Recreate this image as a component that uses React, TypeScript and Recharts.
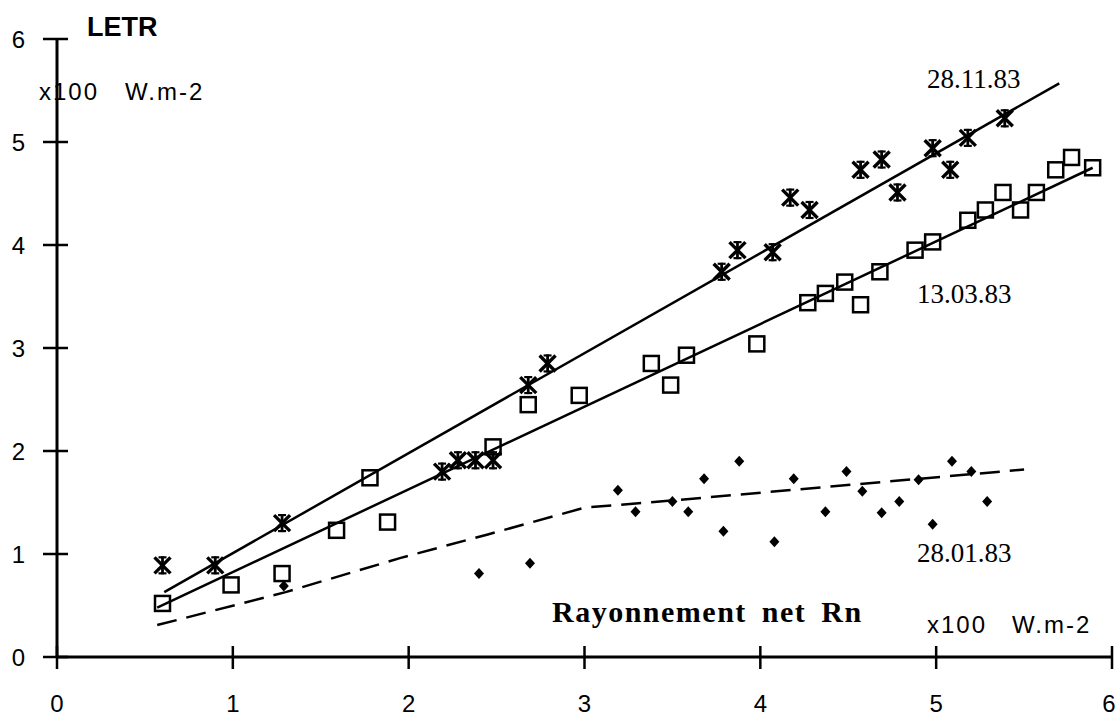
import React from "react";
import { Scatter, ScatterChart, XAxis, YAxis } from "recharts";

// Rayonnement net Rn (x100 W.m-2) vs LETR (x100 W.m-2)
const axisTicks = [0, 1, 2, 3, 4, 5, 6];

const nov83: [number, number][] = [
  [0.6, 0.89], [0.9, 0.89], [1.28, 1.3], [2.19, 1.8], [2.28, 1.91], [2.38, 1.91],
  [2.48, 1.91], [2.68, 2.64], [2.79, 2.85], [3.78, 3.74], [3.87, 3.95], [4.07, 3.93],
  [4.17, 4.46], [4.28, 4.34], [4.57, 4.73], [4.69, 4.83], [4.78, 4.51], [4.98, 4.94],
  [5.08, 4.73], [5.18, 5.04], [5.39, 5.23]
];

const mar83: [number, number][] = [
  [0.6, 0.52], [0.99, 0.7], [1.28, 0.81], [1.59, 1.23], [1.78, 1.74], [1.88, 1.31],
  [2.48, 2.04], [2.68, 2.45], [2.97, 2.54], [3.38, 2.85], [3.49, 2.64], [3.58, 2.93],
  [3.98, 3.04], [4.27, 3.44], [4.37, 3.53], [4.48, 3.64], [4.57, 3.42], [4.68, 3.74],
  [4.88, 3.95], [4.98, 4.03], [5.18, 4.24], [5.28, 4.34], [5.38, 4.51], [5.48, 4.34],
  [5.57, 4.51], [5.68, 4.73], [5.77, 4.85], [5.89, 4.75]
];

const jan83: [number, number][] = [
  [1.29, 0.69], [2.4, 0.81], [2.69, 0.91], [3.19, 1.62], [3.29, 1.41], [3.5, 1.51],
  [3.59, 1.41], [3.68, 1.73], [3.79, 1.22], [3.88, 1.9], [4.08, 1.12], [4.19, 1.73],
  [4.37, 1.41], [4.49, 1.8], [4.58, 1.61], [4.69, 1.4], [4.79, 1.51], [4.9, 1.72],
  [4.98, 1.29], [5.09, 1.9], [5.2, 1.8], [5.29, 1.51]
];

const nov83Fit: [number, number][] = [[0.61, 0.63], [5.7, 5.57]];
const mar83Fit: [number, number][] = [[0.57, 0.48], [5.89, 4.75]];
const jan83Fit: [number, number][] = [
  [0.57, 0.31], [1.3, 0.63], [1.95, 0.96], [2.45, 1.19], [3.0, 1.45],
  [3.5, 1.52], [4.9, 1.73], [5.5, 1.82]
];

const toPts = (arr: [number, number][]) => arr.map(([x, y]) => ({ x, y }));

const SANS = "'Liberation Sans', Arial, sans-serif";
const SERIF = "'Liberation Serif', 'Times New Roman', serif";

const noDot = () => <g />;

const Asterisk = (p: any) => {
  const { cx, cy } = p;
  const s = 8;
  return (
    <g stroke="#000" strokeLinecap="butt">
      <line x1={cx - s} y1={cy - s} x2={cx + s} y2={cy + s} strokeWidth={3.4} />
      <line x1={cx + s} y1={cy - s} x2={cx - s} y2={cy + s} strokeWidth={3.4} />
      <line x1={cx} y1={cy - s - 1} x2={cx} y2={cy + s + 1} strokeWidth={2.8} />
      <line x1={cx - 4} y1={cy - s} x2={cx + 4} y2={cy - s} strokeWidth={2.2} />
      <line x1={cx - 4} y1={cy + s} x2={cx + 4} y2={cy + s} strokeWidth={2.2} />
    </g>
  );
};

const Square = (p: any) => {
  const { cx, cy } = p;
  return <rect x={cx - 7.5} y={cy - 7.5} width={15} height={15} fill="none" stroke="#000" strokeWidth={2.5} />;
};

const Diamond = (p: any) => {
  const { cx, cy } = p;
  return <path d={`M${cx},${cy - 5.5} L${cx + 5},${cy} L${cx},${cy + 5.5} L${cx - 5},${cy} Z`} fill="#000" />;
};

// ticks cross the axis: drawn on both sides
const YTick = (p: any) => {
  const { x, y, payload } = p;
  return (
    <g>
      <line x1={x - 14} y1={y} x2={x + 11} y2={y} stroke="#000" strokeWidth={2.5} />
      <text x={x - 32} y={y} textAnchor="end" dominantBaseline="central" fontFamily={SANS} fontSize={24} fill="#000">
        {payload.value}
      </text>
    </g>
  );
};

const XTick = (p: any) => {
  const { x, y, payload } = p;
  const lx = payload.value === 6 ? x - 3 : x;
  return (
    <g>
      <line x1={x} y1={y - 11} x2={x} y2={y + 12} stroke="#000" strokeWidth={2.5} />
      <text x={lx} y={y + 46} textAnchor="middle" dominantBaseline="central" fontFamily={SANS} fontSize={24} fill="#000">
        {payload.value}
      </text>
    </g>
  );
};

export default function App() {
  return (
    <div style={{ position: "absolute", left: 0, top: 0, width: 1117, height: 715, background: "#fff" }}>
      <ScatterChart width={1117} height={715} margin={{ top: 39, right: 5, bottom: 0, left: 0 }}>
        <XAxis
          type="number"
          dataKey="x"
          domain={[0, 6]}
          ticks={axisTicks}
          height={58}
          tickSize={0}
          tickMargin={0}
          tickLine={false}
          axisLine={{ stroke: "#000", strokeWidth: 3 }}
          tick={XTick}
        />
        <YAxis
          type="number"
          dataKey="y"
          domain={[0, 6]}
          ticks={axisTicks}
          width={57}
          tickSize={0}
          tickMargin={0}
          tickLine={false}
          axisLine={{ stroke: "#000", strokeWidth: 3 }}
          tick={YTick}
        />
        <Scatter data={toPts(nov83Fit)} line={{ stroke: "#000", strokeWidth: 2.5 }} lineType="joint" shape={noDot} fill="none" isAnimationActive={false} />
        <Scatter data={toPts(mar83Fit)} line={{ stroke: "#000", strokeWidth: 2.5 }} lineType="joint" shape={noDot} fill="none" isAnimationActive={false} />
        <Scatter data={toPts(jan83Fit)} line={{ stroke: "#000", strokeWidth: 2.5, strokeDasharray: "20 10" }} lineType="joint" shape={noDot} fill="none" isAnimationActive={false} />
        <Scatter data={toPts(mar83)} shape={Square} isAnimationActive={false} />
        <Scatter data={toPts(nov83)} shape={Asterisk} isAnimationActive={false} />
        <Scatter data={toPts(jan83)} shape={Diamond} isAnimationActive={false} />
      </ScatterChart>
      <svg width={1117} height={715} style={{ position: "absolute", left: 0, top: 0, pointerEvents: "none" }}>
        <text x={87} y={36} fontFamily={SANS} fontWeight="bold" fontSize={27} fill="#000">LETR</text>
        <text x={39} y={100} fontFamily={SANS} fontSize={24} letterSpacing={2} fill="#000">x100</text>
        <text x={125} y={100} fontFamily={SANS} fontSize={24} letterSpacing={2} fill="#000">W.m-2</text>
        <text x={927} y={633} fontFamily={SANS} fontSize={24} letterSpacing={2} fill="#000">x100</text>
        <text x={1012} y={633} fontFamily={SANS} fontSize={24} letterSpacing={2} fill="#000">W.m-2</text>
        <text x={552} y={622} fontFamily={SERIF} fontWeight="bold" fontSize={30} letterSpacing={1.5} wordSpacing={6} fill="#000">
          Rayonnement net Rn
        </text>
        <text x={927} y={88} fontFamily={SERIF} fontSize={27} fill="#000">28.11.83</text>
        <text x={917} y={303} fontFamily={SERIF} fontSize={27} fill="#000">13.03.83</text>
        <text x={917} y={562} fontFamily={SERIF} fontSize={27} fill="#000">28.01.83</text>
      </svg>
    </div>
  );
}
